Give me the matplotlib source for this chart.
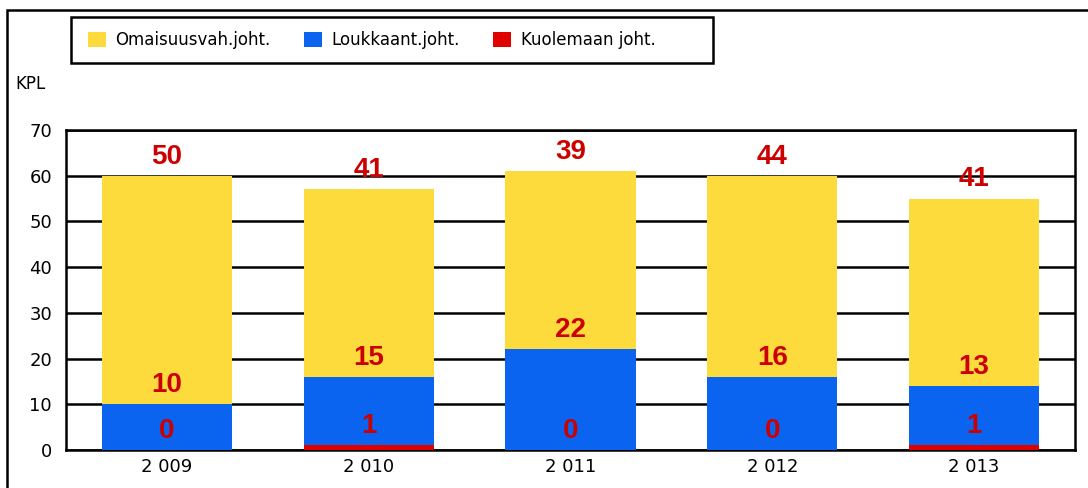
import numpy as np
import matplotlib.pyplot as plt
from matplotlib.patches import Rectangle

# -------------------- Data --------------------
years = ["2 009", "2 010", "2 011", "2 012", "2 013"]
kuolemaan = [0, 1, 0, 0, 1]          # fatal
loukkaant = [10, 15, 22, 16, 13]     # injury
omaisuus = [50, 41, 39, 44, 41]      # property damage

series_names = ["Omaisuusvah.joht.", "Loukkaant.joht.", "Kuolemaan joht."]

YELLOW = "#FDDB3C"
BLUE = "#0A64F0"
RED = "#E00000"
LABEL_RED = "#CC0000"

# -------------------- Plot --------------------
fig = plt.figure(figsize=(10.88, 4.88), dpi=100)
ax = fig.add_axes([66 / 1088, 1 - 450 / 488, (1075 - 66) / 1088, 320 / 488])

x = np.arange(len(years))
w = 0.645
red = np.array(kuolemaan)
blue = np.array(loukkaant)
yel = np.array(omaisuus)

b_red = ax.bar(x, red, w, color=RED, zorder=3)
b_blue = ax.bar(x, blue, w, bottom=red, color=BLUE, zorder=3)
b_yel = ax.bar(x, yel, w, bottom=red + blue, color=YELLOW, zorder=3)

# value labels sit just above each segment's top
off = 4.2
for i in range(len(years)):
    tops = [red[i], red[i] + blue[i], red[i] + blue[i] + yel[i]]
    vals = [red[i], blue[i], yel[i]]
    for t, v in zip(tops, vals):
        ax.text(x[i], t + off, str(v), ha="center", va="center",
                color=LABEL_RED, fontsize=20, fontweight="bold",
                family="Liberation Sans", zorder=5)

ax.set_xlim(-0.5, len(years) - 0.5)
ax.set_ylim(0, 70)
ax.set_yticks(range(0, 71, 10))
ax.set_xticks(x)
ax.set_xticklabels(years)
ax.tick_params(length=0, labelsize=13, pad=6)
ax.tick_params(axis="y", pad=10)
ax.grid(axis="y", color="black", linewidth=1.8, zorder=0)
for s in ax.spines.values():
    s.set_linewidth(1.8)

fig.text(15 / 1088, 1 - 84 / 488, "KPL", fontsize=12, va="center")

# legend entries without frame, box drawn separately
leg = fig.legend([b_yel, b_blue, b_red], series_names, loc="center left",
                 bbox_to_anchor=(88 / 1088, 1 - 40 / 488),
                 ncol=3, fontsize=12, frameon=False,
                 handlelength=1.05, handleheight=1.05,
                 borderaxespad=0, borderpad=0, handletextpad=0.6,
                 columnspacing=2.0)
fig.patches.append(Rectangle((71 / 1088, 1 - 63 / 488), (713 - 71) / 1088, 46 / 488,
                             transform=fig.transFigure, fill=False,
                             edgecolor="black", linewidth=1.8))

# outer frame of the whole graphic
fig.patches.append(Rectangle((7 / 1088, -0.1), 1.2, 1 - 10 / 488 + 0.1,
                             transform=fig.transFigure, fill=False,
                             edgecolor="black", linewidth=1.8, clip_on=False))

fig.savefig("out.png", dpi=100)
